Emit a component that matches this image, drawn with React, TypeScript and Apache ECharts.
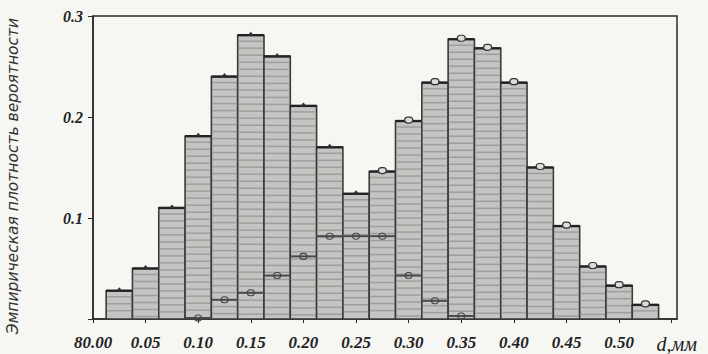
import React, { useEffect, useRef } from "react";
import * as echarts from "echarts";

// Bin centres (d, mm), bin width 0.025
const binCenters = [0.025, 0.05, 0.075, 0.1, 0.125, 0.15, 0.175, 0.2, 0.225, 0.25, 0.275, 0.3, 0.325, 0.35, 0.375, 0.4, 0.425, 0.45, 0.475, 0.5, 0.525];
// Empirical probability density (main histogram)
const density = [0.028, 0.05, 0.11, 0.181, 0.24, 0.281, 0.26, 0.211, 0.17, 0.124, 0.146, 0.196, 0.234, 0.277, 0.268, 0.234, 0.15, 0.092, 0.052, 0.033, 0.014];
// Inner (overlaid) step component
const inner = [0, 0, 0, 0.001, 0.019, 0.026, 0.043, 0.062, 0.082, 0.082, 0.082, 0.043, 0.018, 0.003, 0, 0, 0, 0, 0, 0, 0];
// Marker style: 0 = tick, 1 = circle
const markerKind = [0, 0, 0, 0, 0, 0, 0, 0, 0, 0, 1, 1, 1, 1, 1, 1, 1, 1, 1, 1, 1];
const binWidth = 0.025;
const yTicks = [0, 0.1, 0.2, 0.3];
const yAxisTitle = "Эмпирическая плотность вероятности";
const xUnit = "d,мм";
const xZeroLabel = "80.00";

export default function App() {
  const ref = useRef<HTMLDivElement>(null);
  useEffect(() => {
    if (!ref.current) return;
    const chart = echarts.init(ref.current, null, { renderer: "svg" });
    const ink = "#2a2a2a";
    const mainData = binCenters.map((c, i) => [c, density[i], markerKind[i]]);
    const innerData = binCenters
      .map((c, i) => [c, inner[i]])
      .filter((d) => d[1] > 0);
    chart.setOption({
      animation: false,
      backgroundColor: "#f6f6f3",
      grid: {
        left: 93,
        right: 31,
        top: 16,
        bottom: 33,
        show: true,
        borderColor: ink,
        borderWidth: 1.5,
        backgroundColor: "transparent",
      },
      xAxis: {
        type: "value",
        min: 0,
        max: 0.555,
        interval: 0.05,
        splitLine: { show: false },
        axisLine: { show: true, lineStyle: { color: ink, width: 1.5 } },
        axisTick: { show: true, length: 4, lineStyle: { color: ink } },
        axisLabel: {
          margin: 15,
          showMaxLabel: false,
          color: "#222",
          fontFamily: "Liberation Serif",
          fontStyle: "italic",
          fontWeight: "bold",
          fontSize: 17,
          formatter: (v: number) => {
            if (Math.abs(v) < 1e-9) return xZeroLabel;
            if (Math.abs(v - 0.55) < 1e-6) return "{u|" + xUnit + "}";
            return v.toFixed(2);
          },
          rich: {
            u: {
              fontFamily: "Liberation Serif",
              fontStyle: "italic",
              fontWeight: "normal",
              fontSize: 20,
              color: "#222",
              padding: [0, 0, 2, 10],
            },
          },
        },
      },
      yAxis: {
        type: "value",
        min: yTicks[0],
        max: yTicks[yTicks.length - 1],
        interval: 0.1,
        splitLine: { show: false },
        axisLine: { show: true, lineStyle: { color: ink, width: 1.5 } },
        axisTick: { show: true, length: 5, inside: false, lineStyle: { color: ink } },
        axisLabel: {
          margin: 10,
          color: "#222",
          fontFamily: "Liberation Serif",
          fontStyle: "italic",
          fontWeight: "bold",
          fontSize: 16,
          formatter: (v: number) => (v === 0 ? "" : v.toFixed(1)),
        },
      },
      graphic: [
        {
          type: "text",
          x: 13,
          y: 176,
          rotation: Math.PI / 2,
          style: {
            text: yAxisTitle,
            fill: "#333",
            font: "italic 15.5px 'DejaVu Sans'",
            textAlign: "center",
            textVerticalAlign: "middle",
          },
        },
      ],
      series: [
        {
          type: "custom",
          data: mainData,
          encode: { x: 0, y: 1 },
          renderItem: (params: any, api: any) => {
            const c = api.value(0);
            const v = api.value(1);
            const kind = api.value(2);
            const p0 = api.coord([c - binWidth / 2, v]);
            const p1 = api.coord([c + binWidth / 2, 0]);
            const w = p1[0] - p0[0];
            const h = p1[1] - p0[1];
            const cx = (p0[0] + p1[0]) / 2;
            const children: any[] = [
              {
                type: "rect",
                shape: { x: p0[0], y: p0[1], width: w, height: h },
                style: { fill: "#c4c4c2", stroke: "#3a3a3a", lineWidth: 1.6 },
              },
            ];
            // horizontal hatching (scanned-screen look)
            for (let yy = p0[1] + 6; yy < p1[1] - 2; yy += 7) {
              children.push({
                type: "line",
                shape: { x1: p0[0] + 1, y1: yy, x2: p1[0] - 1, y2: yy },
                style: { stroke: "#9e9e9c", lineWidth: 1.5 },
              });
            }
            children.push({
              type: "line",
              shape: { x1: p0[0], y1: p0[1], x2: p1[0], y2: p0[1] },
              style: { stroke: "#222", lineWidth: 2.4 },
            });
            if (kind === 1) {
              children.push({
                type: "rect",
                shape: { x: cx - 4, y: p0[1] - 4, width: 8, height: 6, r: 3 },
                style: { fill: "#dcdcda", stroke: "#333", lineWidth: 1.2 },
              });
            } else {
              children.push({
                type: "polygon",
                shape: { points: [[cx - 3, p0[1]], [cx + 3, p0[1]], [cx, p0[1] - 3.5]] },
                style: { fill: "#333" },
              });
            }
            return { type: "group", children };
          },
          z: 2,
        },
        {
          type: "custom",
          data: innerData,
          encode: { x: 0, y: 1 },
          renderItem: (params: any, api: any) => {
            const c = api.value(0);
            const v = api.value(1);
            const p0 = api.coord([c - binWidth / 2, v]);
            const p1 = api.coord([c + binWidth / 2, v]);
            const cx = (p0[0] + p1[0]) / 2;
            return {
              type: "group",
              children: [
                {
                  type: "line",
                  shape: { x1: p0[0], y1: p0[1], x2: p1[0], y2: p1[1] },
                  style: { stroke: "#4a4a4a", lineWidth: 2 },
                },
                {
                  type: "rect",
                  shape: { x: cx - 3.5, y: p0[1] - 3, width: 7, height: 6, r: 3 },
                  style: { fill: "none", stroke: "#444", lineWidth: 1.1 },
                },
              ],
            };
          },
          z: 3,
        },
      ],
    });
    return () => chart.dispose();
  }, []);
  return <div ref={ref} style={{ width: 708, height: 354, position: "fixed", left: 0, top: 0 }} />;
}
